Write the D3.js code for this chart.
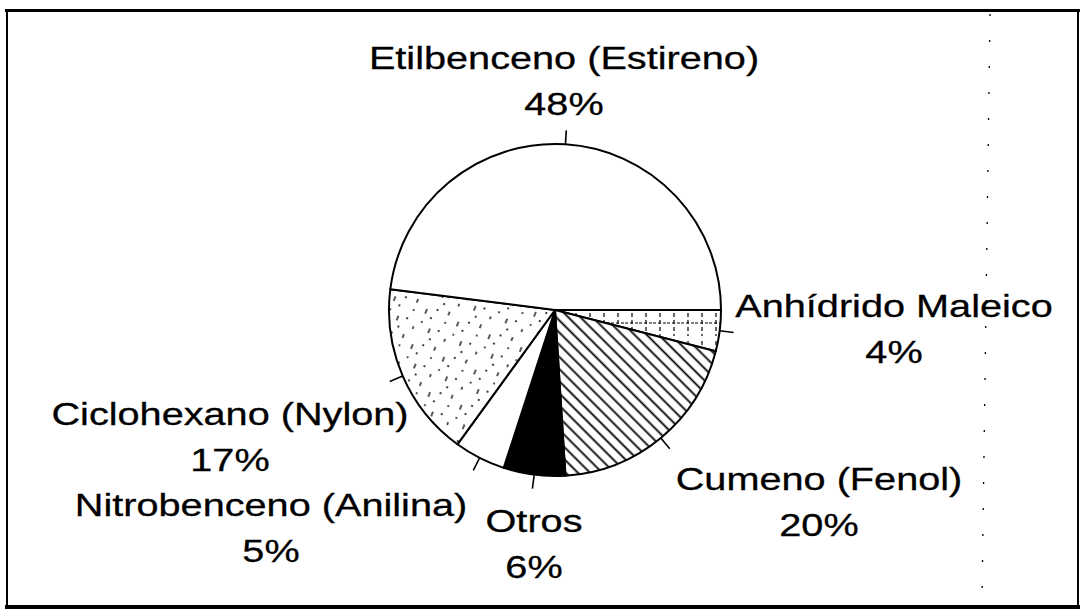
<!DOCTYPE html>
<html>
<head>
<meta charset="utf-8">
<script src="https://cdn.jsdelivr.net/npm/d3@7"></script>
<style>
  html, body { margin: 0; padding: 0; background: #fff; }
  svg { display: block; }
  text { font-family: 'Liberation Sans', Arial, Helvetica, sans-serif; }
</style>
</head>
<body>
<svg id="chart" width="1082" height="610"></svg>
<script>
// slices, clockwise from 3 o'clock
const categories = ['Anhídrido Maleico', 'Cumeno (Fenol)', 'Otros', 'Nitrobenceno (Anilina)', 'Ciclohexano (Nylon)', 'Etilbenceno (Estireno)'];
const shares = [4, 20, 6, 5, 17, 48];
const pctLabels = ['4%', '20%', '6%', '5%', '17%', '48%'];

// layout only: fill per slice and label anchor (centre x, baseline of name)
const fills = ['url(#grid)', 'url(#hatch)', '#000', '#fff', 'url(#dots)', '#fff'];
const labelPos = {
  'Anhídrido Maleico': [894, 317],
  'Cumeno (Fenol)': [819, 490],
  'Otros': [534, 532],
  'Nitrobenceno (Anilina)': [271, 516],
  'Ciclohexano (Nylon)': [230, 425],
  'Etilbenceno (Estireno)': [564, 69]
};

const width = 1082,
  height = 610,
  cx = 555,
  cy = 310,
  r = 166,
  tickLen = 14,
  lineGap = 46,
  stretch = 1.24;

const svg = d3.select('#chart');
svg.append('rect').attr('width', width).attr('height', height).attr('fill', '#fff');

// --- patterns
const defs = svg.append('defs');

const hatch = defs.append('pattern')
  .attr('id', 'hatch')
  .attr('patternUnits', 'userSpaceOnUse')
  .attr('width', 8.6)
  .attr('height', 8.6)
  .attr('patternTransform', 'rotate(-45)');
hatch.append('rect').attr('width', 8.6).attr('height', 8.6).attr('fill', '#fff');
hatch.append('line')
  .attr('x1', 4.3).attr('y1', 0).attr('x2', 4.3).attr('y2', 8.6)
  .attr('stroke', '#000').attr('stroke-width', 1.8);

const grid = defs.append('pattern')
  .attr('id', 'grid')
  .attr('patternUnits', 'userSpaceOnUse')
  .attr('width', 14)
  .attr('height', 28);
grid.append('rect').attr('width', 14).attr('height', 28).attr('fill', '#fff');
grid.append('line')
  .attr('x1', 0).attr('y1', 13).attr('x2', 14).attr('y2', 13)
  .attr('stroke', '#000').attr('stroke-width', 1.2).attr('stroke-dasharray', '3 2');
grid.append('line')
  .attr('x1', 7).attr('y1', 3).attr('x2', 7).attr('y2', 26)
  .attr('stroke', '#000').attr('stroke-width', 1.2).attr('stroke-dasharray', '4 3');

// sparse dots and short streaks
const dots = defs.append('pattern')
  .attr('id', 'dots')
  .attr('patternUnits', 'userSpaceOnUse')
  .attr('width', 34)
  .attr('height', 38)
  .attr('patternTransform', 'rotate(22)');
dots.append('rect').attr('width', 34).attr('height', 38).attr('fill', '#fff');
[[5, 3, 5, 7], [5, 14, 5, 16], [17, 9, 17, 14], [17, 22, 17, 24], [27, 26, 27, 31], [11, 30, 11, 33]].forEach(s => {
  dots.append('line')
    .attr('x1', s[0]).attr('y1', s[1]).attr('x2', s[2]).attr('y2', s[3])
    .attr('stroke', '#000').attr('stroke-width', 1.3);
});
[[27, 6], [24, 16], [2, 25], [31, 36]].forEach(p => {
  dots.append('circle').attr('cx', p[0]).attr('cy', p[1]).attr('r', 1).attr('fill', '#000');
});

// --- pie
const data = categories.map((c, i) => ({ name: c, value: shares[i], pct: pctLabels[i], fill: fills[i] }));

const pie = d3.pie()
  .sort(null)
  .value(d => d.value)
  .startAngle(Math.PI / 2)
  .endAngle(Math.PI / 2 + 2 * Math.PI);

const arc = d3.arc().innerRadius(0).outerRadius(r);
const slices = pie(data);
const mid = d => (d.startAngle + d.endAngle) / 2;

const g = svg.append('g').attr('transform', `translate(${cx},${cy})`);

g.selectAll('path.slice')
  .data(slices)
  .join('path')
  .attr('class', 'slice')
  .attr('d', arc)
  .attr('fill', d => d.data.fill)
  .attr('stroke', '#000')
  .attr('stroke-width', 2)
  .attr('stroke-linejoin', 'round');

g.selectAll('line.tick')
  .data(slices)
  .join('line')
  .attr('class', 'tick')
  .attr('x1', d => r * Math.sin(mid(d)))
  .attr('y1', d => -r * Math.cos(mid(d)))
  .attr('x2', d => (r + tickLen) * Math.sin(mid(d)))
  .attr('y2', d => -(r + tickLen) * Math.cos(mid(d)))
  .attr('stroke', '#000')
  .attr('stroke-width', 1.6);

// --- labels
const labels = svg.selectAll('g.label')
  .data(data)
  .join('g')
  .attr('class', 'label')
  .attr('transform', d => `translate(${labelPos[d.name][0]},${labelPos[d.name][1]}) scale(${stretch},1)`);

labels.append('text')
  .attr('text-anchor', 'middle')
  .attr('font-size', 32)
  .attr('fill', '#000')
  .attr('stroke', '#000')
  .attr('stroke-width', 0.3)
  .text(d => d.name);

labels.append('text')
  .attr('y', lineGap)
  .attr('text-anchor', 'middle')
  .attr('font-size', 32)
  .attr('fill', '#000')
  .attr('stroke', '#000')
  .attr('stroke-width', 0.3)
  .text(d => d.pct);

// --- frame and the faint dotted guide on the right
svg.append('line').attr('x1', 5).attr('y1', 10.5).attr('x2', 1080).attr('y2', 10.5).attr('stroke', '#000').attr('stroke-width', 3);
svg.append('line').attr('x1', 5).attr('y1', 607).attr('x2', 1080).attr('y2', 607).attr('stroke', '#000').attr('stroke-width', 4);
svg.append('line').attr('x1', 7).attr('y1', 9).attr('x2', 7).attr('y2', 609).attr('stroke', '#000').attr('stroke-width', 2);
svg.append('line').attr('x1', 1078).attr('y1', 9).attr('x2', 1078).attr('y2', 609).attr('stroke', '#000').attr('stroke-width', 2);
svg.append('line')
  .attr('x1', 990).attr('y1', 14).attr('x2', 982).attr('y2', 600)
  .attr('stroke', '#000').attr('stroke-width', 1.3)
  .attr('stroke-dasharray', '2 24');
</script>
</body>
</html>
